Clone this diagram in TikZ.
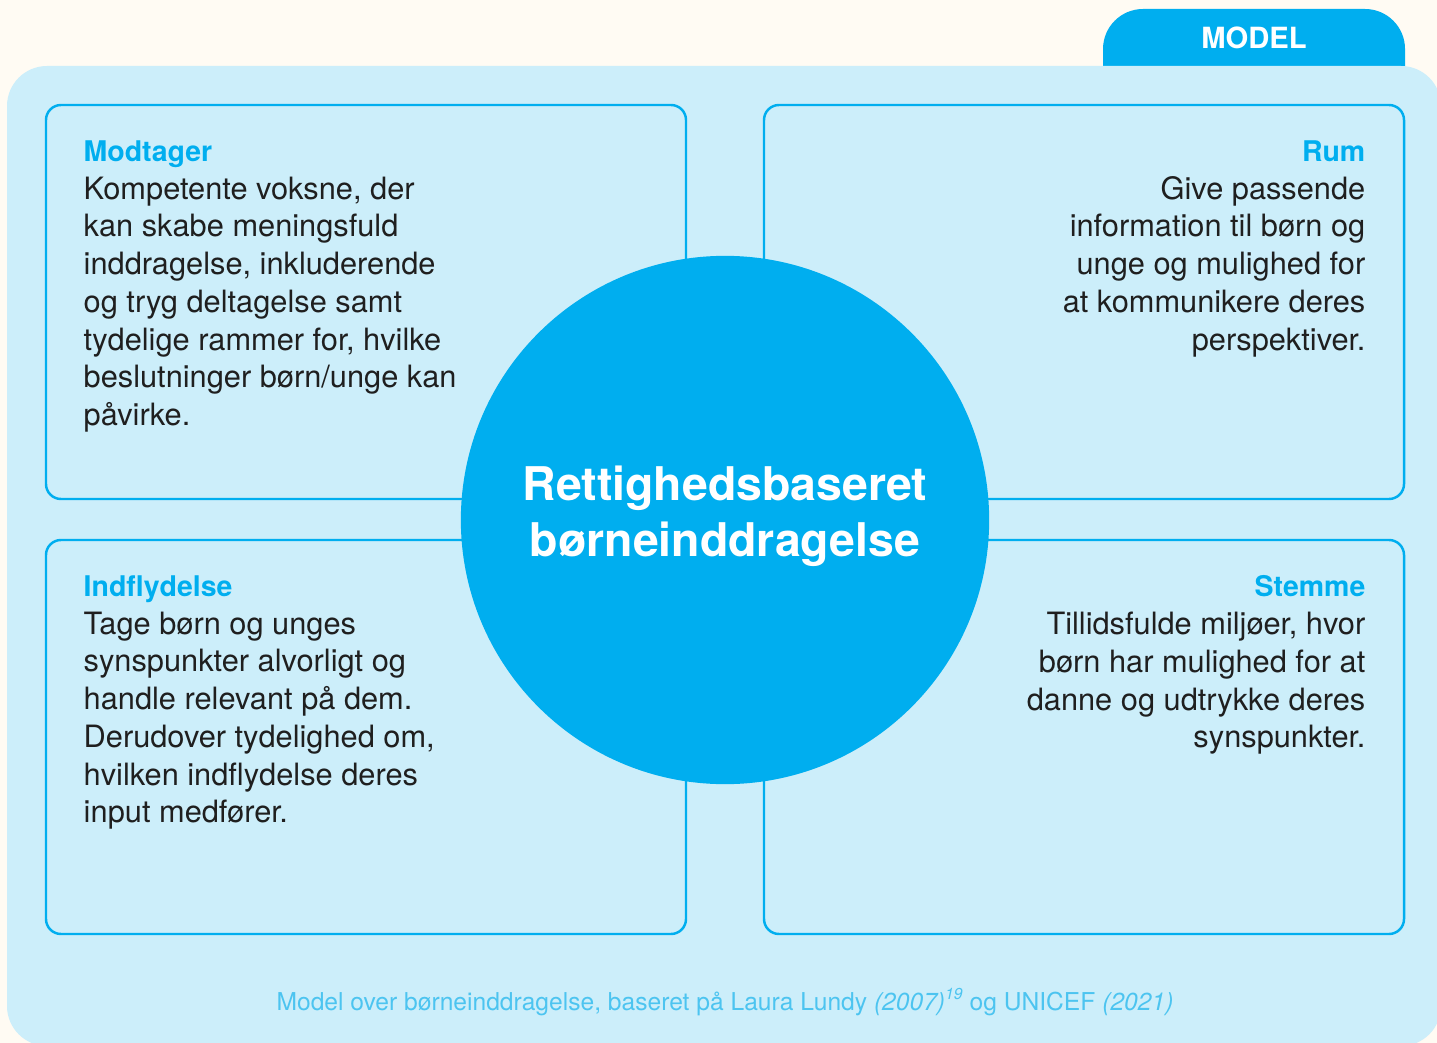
\documentclass[tikz,border=0pt]{standalone}
\usepackage{fontspec}
\setmainfont{TeX Gyre Heros}
\usepackage{tikz}
\usetikzlibrary{positioning}
\definecolor{skyblue}{HTML}{00AEEF}
\definecolor{paleblue}{HTML}{CCEEFA}
\definecolor{cream}{HTML}{FFFBF3}
\definecolor{captionblue}{HTML}{4CC4F0}
\tikzset{
  quad/.style={draw=skyblue,line width=0.7pt,rounded corners=0.15cm},
  blurb/.style={inner sep=0pt,font=\fontsize{8.75}{10.73}\selectfont,text=black!88}
}
\newcommand{\hd}[1]{{\fontsize{8.1}{10.73}\selectfont\textcolor{skyblue}{\textbf{#1}}}}

\begin{document}
\begin{tikzpicture}[x=0.01cm,y=-0.01cm]
\useasboundingbox (0,0) rectangle (1437,1043);
\fill[cream] (0,0) rectangle (1437,1043);
\fill[skyblue] (1103,90) [rounded corners=0.4cm] |- (1405,9) [sharp corners] -- (1405,90) -- cycle;
\node[text=white,font=\fontsize{8.3}{10}\selectfont\bfseries] (tab) at (1254,38) {MODEL};
\fill[paleblue,rounded corners=0.4cm] (7,66) rectangle (1441,1046);
\draw[quad] (46,105) rectangle (686,499);
\draw[quad] (764,105) rectangle (1404,499);
\draw[quad] (46,540) rectangle (686,934);
\draw[quad] (764,540) rectangle (1404,934);
\node[circle,fill=skyblue,minimum size=5.28cm,inner sep=0pt] (hub) at (725,520) {};
\node[text=white,align=center,font=\fontsize{13.2}{16}\selectfont\bfseries] (title) at (725,516)
  {Rettighedsbaseret\\børneinddragelse};
\node[blurb,anchor=north west,align=left] (modtager) at (83,140)
  {\hd{Modtager}\\Kompetente voksne, der\\kan skabe meningsfuld\\inddragelse, inkluderende\\og tryg deltagelse samt\\tydelige rammer for, hvilke\\beslutninger børn/unge kan\\påvirke.};
\node[blurb,anchor=north east,align=right] (rum) at (1366,140)
  {\hd{Rum}\\Give passende\\information til børn og\\unge og mulighed for\\at kommunikere deres\\perspektiver.};
\node[blurb,anchor=north west,align=left] (indflydelse) at (83,575)
  {\hd{Indflydelse}\\Tage børn og unges\\synspunkter alvorligt og\\handle relevant på dem.\\Derudover tydelighed om,\\hvilken indflydelse deres\\input medfører.};
\node[blurb,anchor=north east,align=right] (stemme) at (1366,575)
  {\hd{Stemme}\\Tillidsfulde miljøer, hvor\\børn har mulighed for at\\danne og udtrykke deres\\synspunkter.};
\node[text=captionblue,font=\fontsize{7}{8}\selectfont] (caption) at (725,1002)
  {Model over børneinddragelse, baseret på Laura Lundy \textit{(2007)}\raisebox{0.9ex}{\fontsize{4.5}{5}\selectfont\textit{19}} og UNICEF \textit{(2021)}};
\end{tikzpicture}
\end{document}
